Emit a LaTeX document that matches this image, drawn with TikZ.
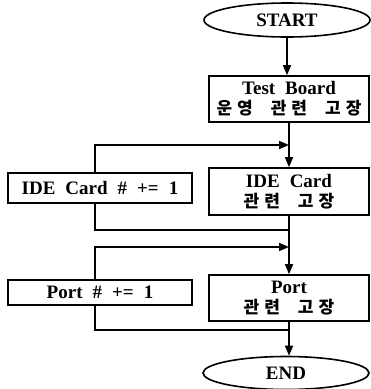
\documentclass[tikz,border=0pt]{standalone}
\usepackage{fontspec}
\setmainfont{Liberation Serif}
\newfontfamily\krfont{Noto Sans CJK KR}
\usetikzlibrary{arrows.meta,shapes.geometric}
\newcommand\krtext[1]{{\krfont\fontsize{17}{20}\selectfont #1}}
\protected\def\widesp{\spaceskip=10pt\relax}
\begin{document}
\begin{tikzpicture}[x=1pt,y=-1pt, line width=1.6pt,
  txt/.style={font=\bfseries\fontsize{19}{20}\selectfont},
  box/.style={txt, draw, rectangle, inner sep=0pt, align=center},
  term/.style={txt, draw, ellipse, inner sep=0pt, minimum width=166pt, minimum height=34pt},
  arr/.style={-{Triangle[length=10pt,width=8pt]}}]
\useasboundingbox (0,0) rectangle (371,389);

\node[term] (start) at (287,20) {START};
\node[box, minimum width=160pt, minimum height=46pt] (tb) at (289,99)
  {\widesp Test Board\\\krtext{운\kern5pt영\hspace{18pt}관\kern5pt련\hspace{18pt}고\kern5pt장}};
\node[box, minimum width=160pt, minimum height=47pt] (ide) at (289,191.5)
  {\widesp IDE Card\\\krtext{관\kern5pt련\hspace{18pt}고\kern5pt장}};
\node[box, minimum width=184pt, minimum height=30pt] (idep) at (100,188) {\widesp IDE Card \# += 1};
\node[box, minimum width=160pt, minimum height=46pt] (port) at (289,298)
  {Port\\\krtext{관\kern5pt련\hspace{18pt}고\kern5pt장}};
\node[box, minimum width=184pt, minimum height=25pt] (portp) at (100,292.5) {\widesp Port \# += 1};
\node[term, minimum height=33pt] (end) at (286,373) {END};

\coordinate (m1) at (289,145);
\coordinate (l1) at (95,145);
\coordinate (r1) at (95,230);
\coordinate (j1) at (289,230);
\coordinate (m2) at (289,247);
\coordinate (l2) at (95,247);
\coordinate (r2) at (95,330);
\coordinate (j2) at (289,330);

\draw[arr] (start.south) -- (start.south |- tb.north);
\draw[arr] (tb.south) -- (ide.north);
\draw[arr] (idep.north -| l1) -- (l1) -- (m1);
\draw (idep.south -| r1) -- (r1) -- (j1);
\draw[arr] (ide.south) -- (port.north);
\draw[arr] (portp.north -| l2) -- (l2) -- (m2);
\draw (portp.south -| r2) -- (r2) -- (j2);
\draw[arr] (port.south) -- (port.south |- end.north);
\end{tikzpicture}
\end{document}
